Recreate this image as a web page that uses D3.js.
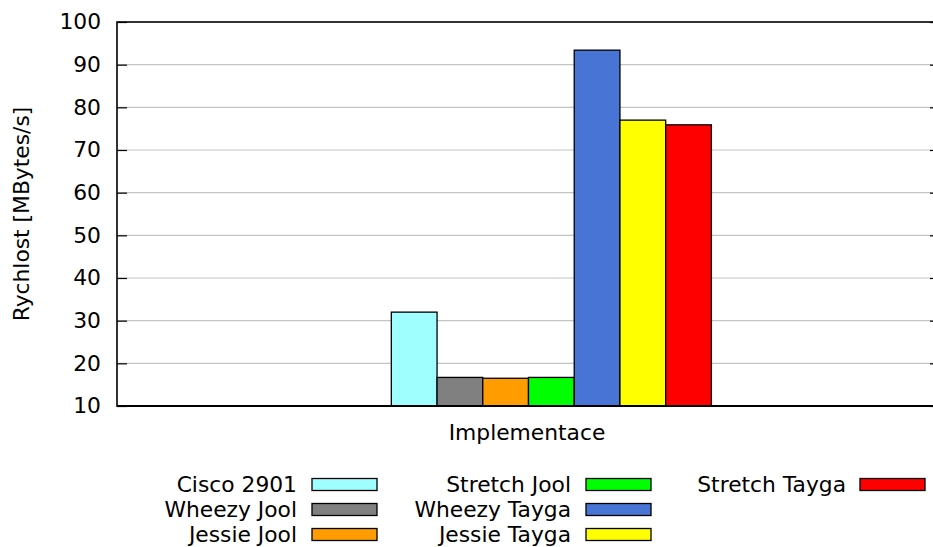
<!DOCTYPE html>
<html lang="en">
<head>
  <meta charset="UTF-8" />
  <title>Rychlost implementaci</title>
  <script src="https://cdn.jsdelivr.net/npm/d3@7"></script>
  <style>
    body { margin: 0; background: #fff; }
    svg { display: block; font-family: "DejaVu Sans", sans-serif; }
  </style>
</head>
<body>
  <script>
    // series (one cluster)
    var names = ["Cisco 2901", "Wheezy Jool", "Jessie Jool", "Stretch Jool",
                 "Wheezy Tayga", "Jessie Tayga", "Stretch Tayga"];
    var values = [32.0, 16.7, 16.5, 16.7, 93.4, 77.0, 75.9];
    var colors = ["#9fffff", "#808080", "#ff9c00", "#00ff00",
                  "#4875d5", "#ffff00", "#ff0000"];
    var yTicks = [10, 20, 30, 40, 50, 60, 70, 80, 90, 100];

    var w = 933;
    var h = 547;
    var margin = { top: 22, right: -7, bottom: 141, left: 117 };
    var fs = 21.8;

    var svg = d3.select("body").append("svg")
      .attr("width", w)
      .attr("height", h);

    var x0 = margin.left, x1 = w - margin.right;
    var y0 = h - margin.bottom, y1 = margin.top;

    // bar slots: 18 slot widths across the plot, cluster begins at slot 6
    var xScale = d3.scaleLinear().domain([0, 18]).range([x0, x1]);
    var yScale = d3.scaleLinear().domain([10, 100]).range([y0, y1]);

    // grid
    svg.append("g")
      .selectAll("line")
      .data(yTicks.slice(1, -1))
      .enter()
      .append("line")
      .attr("x1", x0).attr("x2", x1)
      .attr("y1", function(d) { return yScale(d); })
      .attr("y2", function(d) { return yScale(d); })
      .style("stroke", "#c4c4c4")
      .style("stroke-width", 1.2);

    // left axis with inward ticks
    var yAxis = d3.axisLeft(yScale)
      .tickValues(yTicks)
      .tickSize(-10)
      .tickPadding(16);
    var ga = svg.append("g")
      .attr("transform", "translate(" + x0 + ",0)")
      .call(yAxis);
    ga.select(".domain").remove();
    ga.selectAll(".tick line").style("stroke", "#000").style("stroke-width", 1.2);
    ga.selectAll(".tick text")
      .attr("font-size", fs)
      .attr("font-family", "DejaVu Sans")
      .attr("fill", "#000");

    // mirror ticks on the right
    var gr = svg.append("g")
      .attr("transform", "translate(" + x1 + ",0)")
      .call(d3.axisRight(yScale).tickValues(yTicks).tickSize(-10).tickFormat(""));
    gr.select(".domain").remove();
    gr.selectAll(".tick line").style("stroke", "#000").style("stroke-width", 1.2);

    // bars
    svg.selectAll("rect.bar")
      .data(values)
      .enter()
      .append("rect")
      .attr("class", "bar")
      .attr("x", function(d, i) { return xScale(6 + i); })
      .attr("width", function(d, i) { return xScale(7 + i) - xScale(6 + i); })
      .attr("y", function(d) { return yScale(d); })
      .attr("height", function(d) { return y0 - yScale(d); })
      .style("fill", function(d, i) { return colors[i]; })
      .style("stroke", "#000")
      .style("stroke-width", 1.3);

    // frame
    svg.append("rect")
      .attr("x", x0).attr("y", y1)
      .attr("width", x1 - x0).attr("height", y0 - y1)
      .style("fill", "none")
      .style("stroke", "#000")
      .style("stroke-width", 1.6);
    svg.append("line")
      .attr("x1", x0).attr("x2", x1)
      .attr("y1", y0).attr("y2", y0)
      .style("stroke", "#000")
      .style("stroke-width", 2.2);

    // axis titles
    svg.append("text")
      .attr("x", 527)
      .attr("y", 440)
      .attr("text-anchor", "middle")
      .attr("font-size", fs)
      .text("Implementace");

    svg.append("text")
      .attr("transform", "translate(29," + ((y0 + y1) / 2) + ") rotate(-90)")
      .attr("text-anchor", "middle")
      .attr("font-size", fs)
      .text("Rychlost [MBytes/s]");

    // legend, 3 rows per column
    var colText = [297, 571, 846];
    var colBox = [312, 586, 860];
    var rowY = [484.5, 509.5, 534.5];

    var leg = svg.selectAll("g.leg")
      .data(names)
      .enter()
      .append("g")
      .attr("class", "leg");

    leg.append("text")
      .attr("x", function(d, i) { return colText[Math.floor(i / 3)]; })
      .attr("y", function(d, i) { return rowY[i % 3]; })
      .attr("dy", "0.35em")
      .attr("text-anchor", "end")
      .attr("font-size", fs)
      .text(function(d) { return d; });

    leg.append("rect")
      .attr("x", function(d, i) { return colBox[Math.floor(i / 3)]; })
      .attr("y", function(d, i) { return rowY[i % 3] - 6; })
      .attr("width", 65)
      .attr("height", 12)
      .style("fill", function(d, i) { return colors[i]; })
      .style("stroke", "#000")
      .style("stroke-width", 1.3);
  </script>
</body>
</html>
